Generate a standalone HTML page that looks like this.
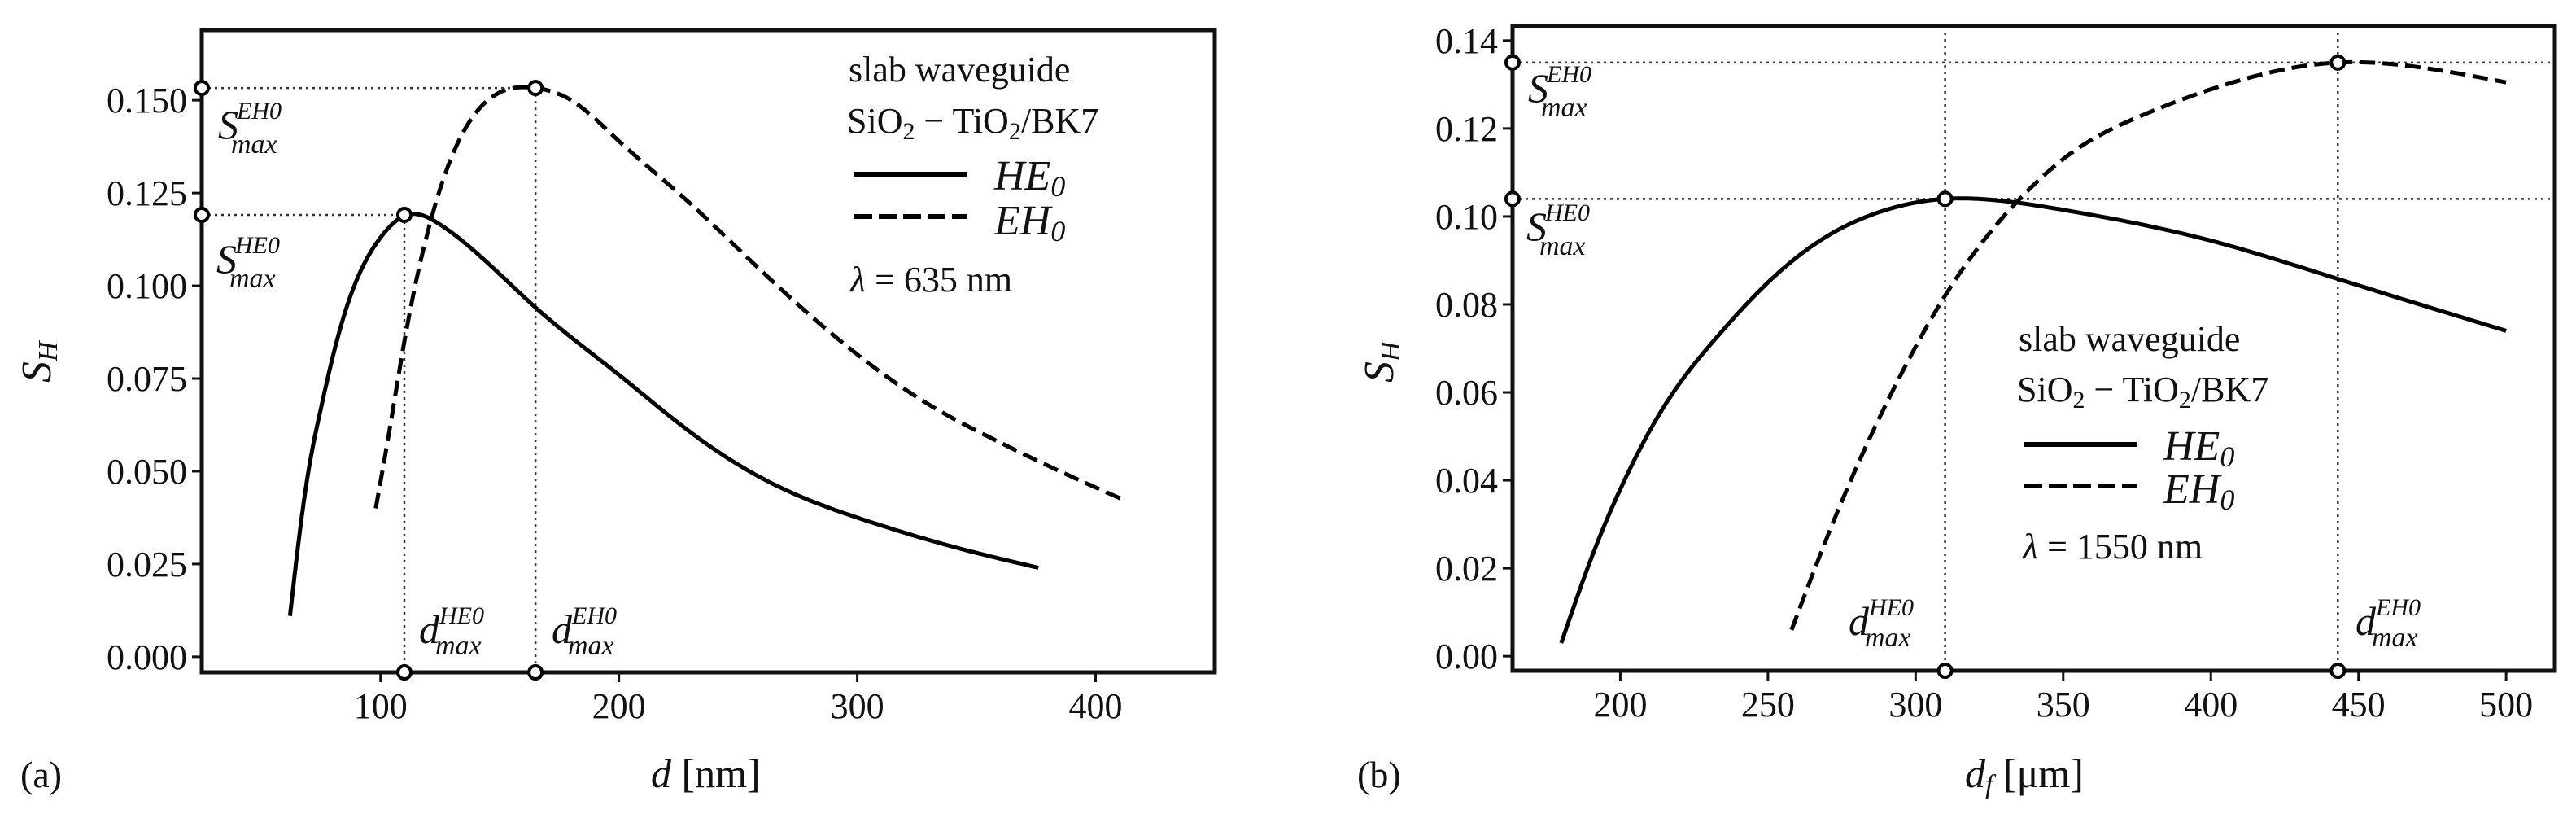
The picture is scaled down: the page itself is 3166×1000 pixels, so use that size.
<!DOCTYPE html>
<html><head><meta charset="utf-8"><style>
html,body{margin:0;padding:0;background:#fff}
svg{display:block}
text{font-family:"Liberation Serif",serif;fill:#111}
.tk{font-size:44px}
.it{font-style:italic}
</style></head><body>
<svg id="fig" width="3166" height="1000" viewBox="0 0 3166 1000" xmlns="http://www.w3.org/2000/svg"></svg>
<script>
// ---- Panel (a) data ----
const aX_HE = [62,66,70,75,80,89,100,111,125,140,166,200,225,250,275,300,350,376];
const aY_HE = [0.011,0.033,0.051,0.067,0.081,0.100,0.113,0.1191,0.1165,0.109,0.0936,0.076,0.063,0.0518,0.0435,0.0375,0.028,0.024];
const aX_EH = [98,104,110,120,130,145,165,180,200,225,250,275,303,330,356,385,411];
const aY_EH = [0.040,0.062,0.085,0.115,0.135,0.150,0.1533,0.150,0.139,0.125,0.110,0.095,0.080,0.068,0.059,0.050,0.0425];
const aXTicks = [100,200,300,400];
const aYTicks = [0,0.025,0.05,0.075,0.1,0.125,0.15];
const aYTickLabels = ["0.000","0.025","0.050","0.075","0.100","0.125","0.150"];
const aPeaks = [[110,0.1191],[165,0.1533]];
// ---- Panel (b) data ----
const bX_HE = [180,190,200,215,233,250,270,290,310,330,350,400,443,500];
const bY_HE = [0.003,0.022,0.038,0.057,0.0728,0.085,0.0955,0.1015,0.104,0.1035,0.1015,0.0945,0.0858,0.074];
const bX_EH = [258,270,280,295,310,323,336,355,375,410,443,475,500];
const bY_EH = [0.006,0.027,0.043,0.064,0.082,0.0945,0.1045,0.1155,0.1225,0.131,0.135,0.1335,0.1305];
const bXTicks = [200,250,300,350,400,450,500];
const bYTicks = [0,0.02,0.04,0.06,0.08,0.1,0.12,0.14];
const bYTickLabels = ["0.00","0.02","0.04","0.06","0.08","0.10","0.12","0.14"];
const bPeaks = [[310,0.104],[443,0.135]];

const NS="http://www.w3.org/2000/svg";
const svg=document.getElementById('fig');
function mk(tag,attrs,parent){const e=document.createElementNS(NS,tag);for(const k in attrs)e.setAttribute(k,attrs[k]);(parent||svg).appendChild(e);return e;}
function spline(xs,ys){
  const n=xs.length,h=[],al=[],l=[1],mu=[0],z=[0],c=new Array(n).fill(0),b=[],d=[];
  for(let i=0;i<n-1;i++)h[i]=xs[i+1]-xs[i];
  for(let i=1;i<n-1;i++)al[i]=3/h[i]*(ys[i+1]-ys[i])-3/h[i-1]*(ys[i]-ys[i-1]);
  for(let i=1;i<n-1;i++){l[i]=2*(xs[i+1]-xs[i-1])-h[i-1]*mu[i-1];mu[i]=h[i]/l[i];z[i]=(al[i]-h[i-1]*z[i-1])/l[i];}
  for(let j=n-2;j>=0;j--){if(j>0)c[j]=z[j]-mu[j]*c[j+1];else c[j]=0;b[j]=(ys[j+1]-ys[j])/h[j]-h[j]*(c[j+1]+2*c[j])/3;d[j]=(c[j+1]-c[j])/(3*h[j]);}
  const out=[];
  for(let j=0;j<n-1;j++){const steps=16;for(let k=0;k<steps;k++){const t=h[j]*k/steps;out.push([xs[j]+t,ys[j]+b[j]*t+c[j]*t*t+d[j]*t*t*t]);}}
  out.push([xs[n-1],ys[n-1]]);
  return out;
}
function pathOf(xs,ys,sx,sy){return 'M'+spline(xs,ys).map(p=>sx(p[0]).toFixed(1)+','+sy(p[1]).toFixed(1)).join('L');}

function panel(cfg){
  const g=mk('g',{});
  
  
  const sx=v=>cfg.L+(v-cfg.x0)/(cfg.x1-cfg.x0)*(cfg.R-cfg.L);
  const sy=v=>cfg.B-(v-cfg.y0)/(cfg.y1-cfg.y0)*(cfg.B-cfg.T);
  cfg.peaks.forEach((p,i)=>{
    const h=mk('line',{x1:cfg.L,y1:sy(p[1]),x2:cfg.fullGuides?cfg.R:sx(p[0]),y2:sy(p[1]),stroke:'#333','stroke-width':2.5,'stroke-dasharray':'3 5'},g);
    
    
    const v=mk('line',{x1:sx(p[0]),y1:cfg.fullGuides?cfg.T:sy(p[1]),x2:sx(p[0]),y2:cfg.B,stroke:'#333','stroke-width':2.5,'stroke-dasharray':'3 5'},g);
    
    
  });
  const he=mk('path',{d:pathOf(cfg.xHE,cfg.yHE,sx,sy),fill:'none',stroke:'#000','stroke-width':5,'stroke-linejoin':'round'},g);
  
  
  const eh=mk('path',{d:pathOf(cfg.xEH,cfg.yEH,sx,sy),fill:'none',stroke:'#000','stroke-width':5,'stroke-dasharray':'19 9'},g);
  
  
  const fr=mk('rect',{x:cfg.L,y:cfg.T,width:cfg.R-cfg.L,height:cfg.B-cfg.T,fill:'none',stroke:'#111','stroke-width':5},g);
  
  
  cfg.xTicks.forEach(t=>{
    const l=mk('line',{x1:sx(t),y1:cfg.B,x2:sx(t),y2:cfg.B+12,stroke:'#111','stroke-width':3},g);
    
    
    const tx=mk('text',{x:sx(t),y:cfg.B+56,'text-anchor':'middle',class:'tk'},g);
    tx.textContent=String(t);
    
    
  });
  cfg.yTicks.forEach((t,i)=>{
    const l=mk('line',{x1:cfg.L-12,y1:sy(t),x2:cfg.L,y2:sy(t),stroke:'#111','stroke-width':3},g);
    
    
    const tx=mk('text',{x:cfg.L-18,y:sy(t)+15,'text-anchor':'end',class:'tk'},g);
    tx.textContent=cfg.yLabels[i];
    
    
  });
  cfg.peaks.forEach(p=>{
    [[sx(p[0]),sy(p[1])],[cfg.L,sy(p[1])],[sx(p[0]),cfg.B]].forEach(c=>{
      const m=mk('circle',{cx:c[0],cy:c[1],r:8,fill:'#fff',stroke:'#000','stroke-width':4},g);
      
      
    });
  });
}
panel({name:'panel-a',L:248,R:1493,T:37,B:826,x0:25,x1:450,y0:-0.0042,y1:0.1689,xHE:aX_HE,yHE:aY_HE,xEH:aX_EH,yEH:aY_EH,xTicks:aXTicks,yTicks:aYTicks,yLabels:aYTickLabels,peaks:aPeaks,fullGuides:false});
panel({name:'panel-b',L:1859,R:3140,T:32,B:824,x0:163.5,x1:516.5,y0:-0.0033,y1:0.1433,xHE:bX_HE,yHE:bY_HE,xEH:bX_EH,yEH:bY_EH,xTicks:bXTicks,yTicks:bYTicks,yLabels:bYTickLabels,peaks:bPeaks,fullGuides:true});
</script>
<svg width="3166" height="1000" style="position:absolute;left:0;top:0" xmlns="http://www.w3.org/2000/svg">
  <text x="268" y="170" font-size="50" class="it">S<tspan font-size="30" dy="-24" dx="-2">EH0</tspan><tspan font-size="34" dx="-62" dy="42">max</tspan></text>
  <text x="266" y="335" font-size="50" class="it">S<tspan font-size="30" dy="-24" dx="-2">HE0</tspan><tspan font-size="34" dx="-62" dy="42">max</tspan></text>
  <text x="515" y="790" font-size="50" class="it">d<tspan font-size="30" dy="-24">HE0</tspan><tspan font-size="34" dx="-60" dy="38">max</tspan></text>
  <text x="678" y="790" font-size="50" class="it">d<tspan font-size="30" dy="-24">EH0</tspan><tspan font-size="34" dx="-60" dy="38">max</tspan></text>
  <g>
    <text x="1043" y="100" font-size="44">slab waveguide</text>
    <text x="1041" y="163" font-size="44">SiO<tspan font-size="30" dy="8">2</tspan><tspan dy="-8"> − TiO</tspan><tspan font-size="30" dy="8">2</tspan><tspan dy="-8">/BK7</tspan></text>
    <line x1="1050" y1="214" x2="1188" y2="214" stroke="#000" stroke-width="6"/>
    <text x="1222" y="233" font-size="52" class="it">HE<tspan font-size="36" dy="8">0</tspan></text>
    <line x1="1050" y1="266" x2="1188" y2="266" stroke="#000" stroke-width="6" stroke-dasharray="22 8"/>
    <text x="1222" y="288" font-size="52" class="it">EH<tspan font-size="36" dy="8">0</tspan></text>
    <text x="1045" y="358" font-size="44"><tspan class="it">λ</tspan> = 635 nm</text>
  </g>
  <text x="25" y="967" font-size="46">(a)</text>
  <text x="800" y="967" font-size="50"><tspan class="it">d</tspan> [nm]</text>
  <text x="0" y="0" font-size="52" class="it" transform="translate(62,470) rotate(-90)">S<tspan font-size="34" dy="8">H</tspan></text>
  <text x="1878" y="125" font-size="50" class="it">S<tspan font-size="30" dy="-24" dx="-2">EH0</tspan><tspan font-size="34" dx="-62" dy="42">max</tspan></text>
  <text x="1876" y="295" font-size="50" class="it">S<tspan font-size="30" dy="-24" dx="-2">HE0</tspan><tspan font-size="34" dx="-62" dy="42">max</tspan></text>
  <text x="2272" y="780" font-size="50" class="it">d<tspan font-size="30" dy="-24">HE0</tspan><tspan font-size="34" dx="-60" dy="38">max</tspan></text>
  <text x="2895" y="780" font-size="50" class="it">d<tspan font-size="30" dy="-24">EH0</tspan><tspan font-size="34" dx="-60" dy="38">max</tspan></text>
  <g>
    <text x="2481" y="431" font-size="44">slab waveguide</text>
    <text x="2479" y="493" font-size="44">SiO<tspan font-size="30" dy="8">2</tspan><tspan dy="-8"> − TiO</tspan><tspan font-size="30" dy="8">2</tspan><tspan dy="-8">/BK7</tspan></text>
    <line x1="2488" y1="546" x2="2627" y2="546" stroke="#000" stroke-width="6"/>
    <text x="2659" y="565" font-size="52" class="it">HE<tspan font-size="36" dy="8">0</tspan></text>
    <line x1="2488" y1="597" x2="2627" y2="597" stroke="#000" stroke-width="6" stroke-dasharray="22 8"/>
    <text x="2659" y="618" font-size="52" class="it">EH<tspan font-size="36" dy="8">0</tspan></text>
    <text x="2486" y="686" font-size="44"><tspan class="it">λ</tspan> = 1550 nm</text>
  </g>
  <text x="1668" y="967" font-size="46">(b)</text>
  <text x="2415" y="967" font-size="50"><tspan class="it">d</tspan><tspan font-size="34" dy="8" class="it">f</tspan><tspan dy="-8"> [μm]</tspan></text>
  <text x="0" y="0" font-size="52" class="it" transform="translate(1712,470) rotate(-90)">S<tspan font-size="34" dy="8">H</tspan></text>
</svg>
</body></html>
